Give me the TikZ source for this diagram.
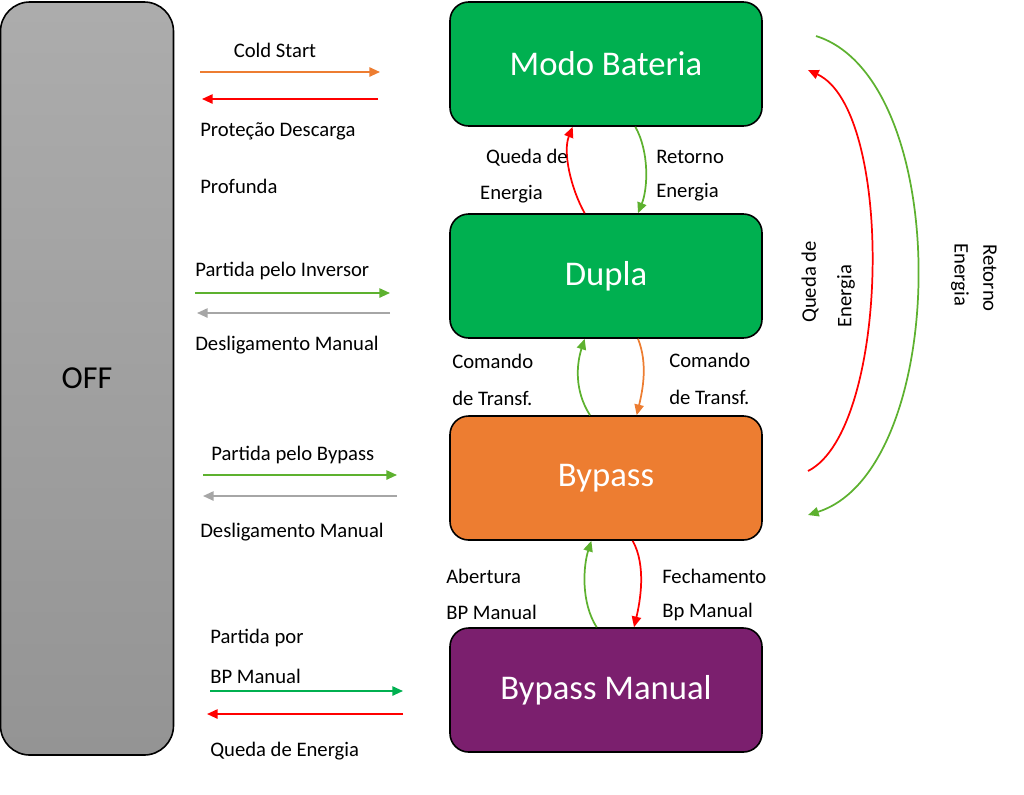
\documentclass[tikz,border=0pt]{standalone}
\usepackage{fontspec}
\setmainfont{Carlito}
\usetikzlibrary{arrows.meta}
\definecolor{gbox}{HTML}{00B050}
\definecolor{obox}{HTML}{ED7D31}
\definecolor{pbox}{HTML}{7B1F6E}
\definecolor{ared}{HTML}{FF0000}
\definecolor{agreen}{HTML}{5DB12F}
\definecolor{aorange}{HTML}{ED7D31}
\definecolor{agray}{HTML}{A6A6A6}
\definecolor{abgreen}{HTML}{00B050}
\begin{document}
\begin{tikzpicture}[x=0.75pt,y=-0.75pt,
 box/.style={draw=black,line width=1.2pt,rounded corners=14pt,minimum width=312*0.75pt,minimum height=124*0.75pt,font=\fontsize{26}{30}\selectfont,text=white},
 lab/.style={font=\fontsize{15.5}{18}\selectfont,inner sep=0pt},
 arr/.style={line width=1.3pt,-{Triangle[length=8pt,width=7pt]}}]
\useasboundingbox (0,0) rectangle (1024,794);
\node[draw=black,line width=1.2pt,rounded corners=22pt,top color=gray!65,bottom color=gray!95!black!80,minimum width=173*0.75pt,minimum height=753*0.75pt,font=\fontsize{24}{28}\selectfont] (off) at (87,378.5) {OFF};
\node[box,fill=gbox] (mb) at (606,64) {Modo Bateria};
\node[box,fill=gbox] (du) at (606,276) {Dupla};
\node[box,fill=obox] (bp) at (606,478) {Bypass};
\node[box,fill=pbox] (bm) at (606,690) {Bypass Manual};
% side arrows
\coordinate (a1) at (200,72); \coordinate (a2) at (380,72);
\coordinate (b1) at (378,99); \coordinate (b2) at (202,99);
\draw[arr,aorange] (a1) -- (a2);
\draw[arr,ared] (b1) -- (b2);
\node[lab] (t1) at (275,50) {Cold Start};
\node[lab,anchor=west] (t2) at (200,131) {Proteção Descarga};
\node[lab,anchor=west] (t3) at (200,186) {Profunda};
\coordinate (c1) at (195,293); \coordinate (c2) at (390,293);
\coordinate (d1) at (390,313); \coordinate (d2) at (197,313);
\draw[arr,agreen] (c1) -- (c2);
\draw[arr,agray] (d1) -- (d2);
\node[lab,anchor=west] (t4) at (195,271) {Partida pelo Inversor};
\node[lab,anchor=west] (t5) at (195,345) {Desligamento Manual};
\coordinate (e1) at (203,475); \coordinate (e2) at (397,475);
\coordinate (f1) at (397,496); \coordinate (f2) at (203,496);
\draw[arr,agreen] (e1) -- (e2);
\draw[arr,agray] (f1) -- (f2);
\node[lab,anchor=west] (t6) at (211,455) {Partida pelo Bypass};
\node[lab,anchor=west] (t7) at (200,532) {Desligamento Manual};
\coordinate (g1) at (210,691); \coordinate (g2) at (403,691);
\coordinate (h1) at (403,714); \coordinate (h2) at (207,714);
\draw[arr,abgreen] (g1) -- (g2);
\draw[arr,ared] (h1) -- (h2);
\node[lab,anchor=west] (t8) at (210,638) {Partida por};
\node[lab,anchor=west] (t9) at (210,676) {BP Manual};
\node[lab,anchor=west] (t10) at (210,751) {Queda de Energia};
% between boxes
\draw[arr,ared] ([xshift=-16pt]du.north) .. controls +(-14,-25) and +(-10,25) .. ([xshift=-25pt]mb.south);
\draw[arr,agreen] ([xshift=22pt]mb.south) .. controls +(14,25) and +(10,-25) .. ([xshift=24pt]du.north);
\node[lab,anchor=east] at (568,158) {Queda de};
\node[lab,anchor=east] at (543,194) {Energia};
\node[lab,anchor=west] at (656,157) {Retorno};
\node[lab,anchor=west] at (656,192) {Energia};
\draw[arr,agreen] ([xshift=-12pt]bp.north) .. controls +(-16,-25) and +(-8,25) .. ([xshift=-16pt]du.south);
\draw[arr,aorange] ([xshift=24pt]du.south) .. controls +(10,25) and +(6,-25) .. ([xshift=23pt]bp.north);
\node[lab,anchor=west] at (452,361) {Comando};
\node[lab,anchor=west] at (452,398) {de Transf.};
\node[lab,anchor=west] at (669,360) {Comando};
\node[lab,anchor=west] at (669,397) {de Transf.};
\draw[arr,agreen] ([xshift=-7pt]bm.north) .. controls +(-16,-25) and +(-8,25) .. ([xshift=-11pt]bp.south);
\draw[arr,ared] ([xshift=20pt]bp.south) .. controls +(14,25) and +(6,-25) .. ([xshift=21pt]bm.north);
\node[lab,anchor=west] at (446,576) {Abertura};
\node[lab,anchor=west] at (446,612) {BP Manual};
\node[lab,anchor=west] at (662,576) {Fechamento};
\node[lab,anchor=west] at (662,612) {Bp Manual};
% big arcs
\coordinate (r1) at (808,471); \coordinate (r2) at (808,70);
\draw[arr,ared] (r1) .. controls (890,430) and (895,110) .. (r2);
\coordinate (s1) at (816,36); \coordinate (s2) at (808,515);
\draw[arr,agreen] (s1) .. controls (955,80) and (950,470) .. (s2);
\node[lab,rotate=90] at (810,282) {Queda de};
\node[lab,rotate=90] at (846,296) {Energia};
\node[lab,rotate=-90] at (990,278) {Retorno};
\node[lab,rotate=-90] at (960,275) {Energia};
\end{tikzpicture}
\end{document}
